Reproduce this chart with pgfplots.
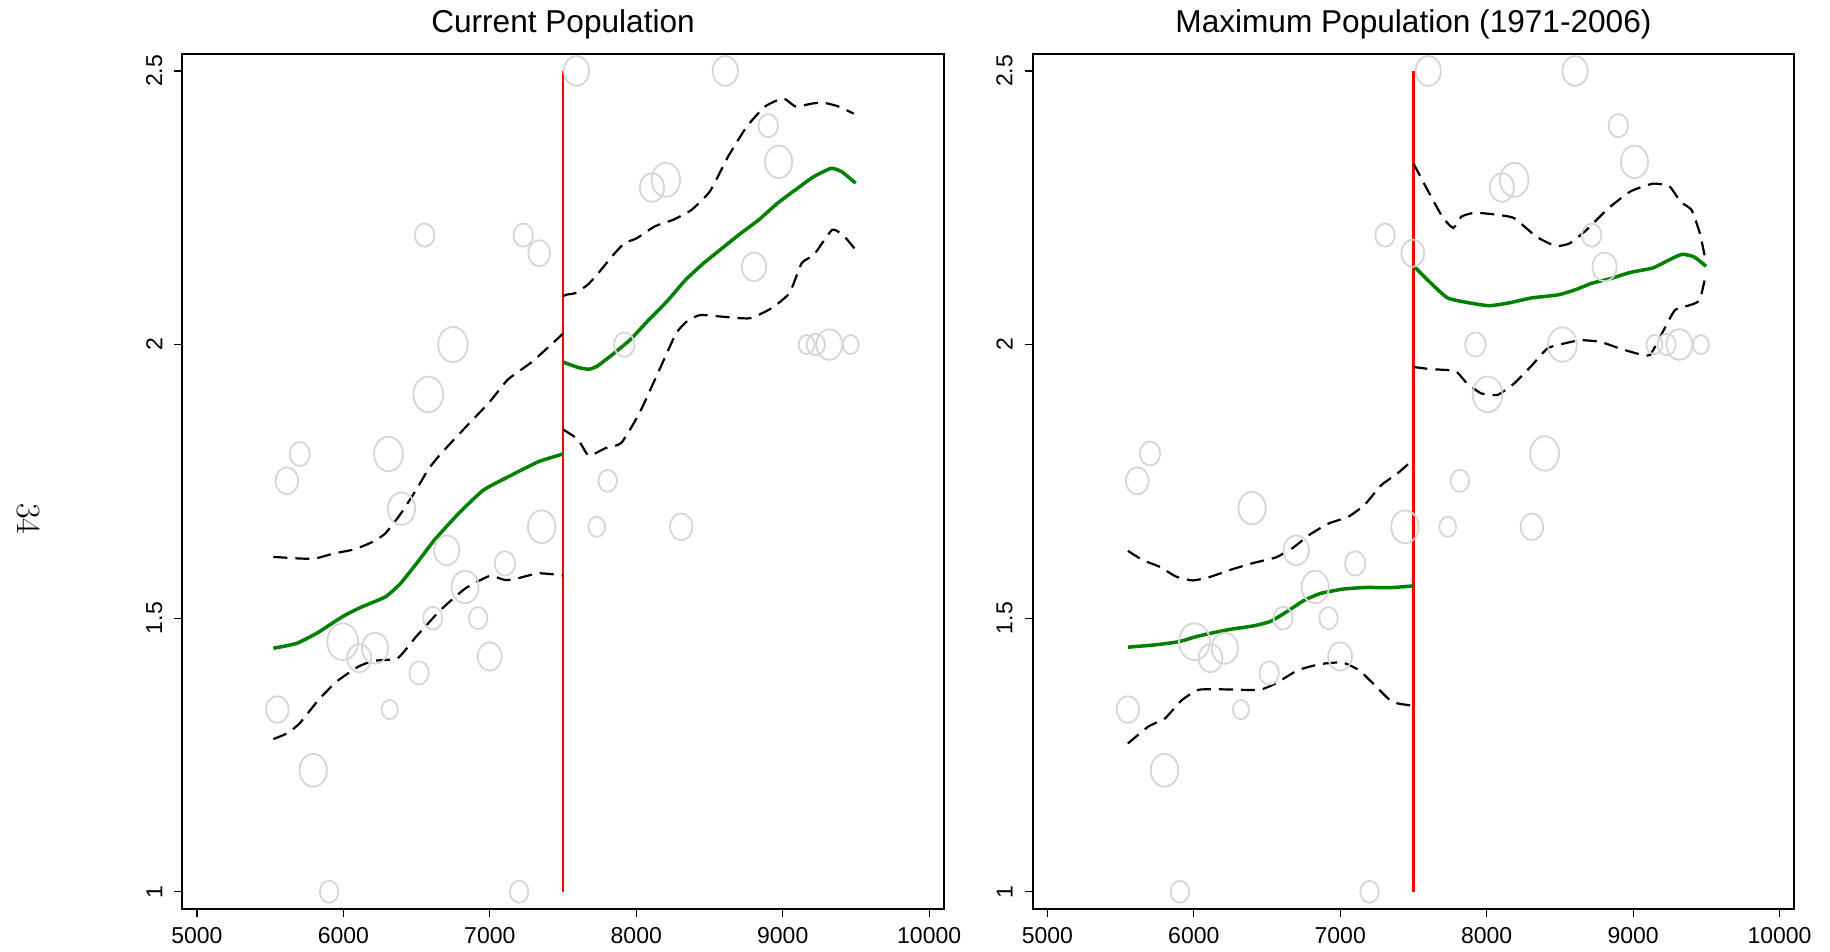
\documentclass[border=0pt]{standalone}
\usepackage{fontspec}
\usepackage{pgfplots}
\usepackage{pgfplotstable}
\pgfplotsset{compat=1.18}
\newfontfamily\axfont{Liberation Sans}
\definecolor{circ}{RGB}{214,214,214}
\definecolor{fitgreen}{RGB}{0,128,0}

% scatter points: x, y, marker radius (pt)
\pgfplotstableread{
x y r
7592 2.5 7.5
8608 2.5 7.5
8901 2.4 5.8
8972 2.334 8.1
8107 2.287 7.2
8202 2.301 8.5
6555 2.2 5.8
7228 2.2 5.8
7337 2.167 6.5
8804 2.142 7.2
6748 2.0 8.8
7918 2.0 6.1
9163 2.0 4.75
9226 2.0 5.4
9318 2.0 7.7
9464 2.0 4.75
6580 1.909 8.9
5702 1.80 6.0
6308 1.80 8.6
5614 1.751 6.75
7805 1.751 5.5
6397 1.70 8.1
7354 1.667 8.2
7730 1.667 5.0
8307 1.667 6.7
6706 1.624 7.5
7103 1.60 6.1
6831 1.557 8.1
6610 1.50 5.7
6920 1.50 5.5
5995 1.457 9.2
6216 1.445 7.8
6108 1.427 7.1
6999 1.43 7.1
6517 1.40 5.8
5549 1.333 6.7
6316 1.333 4.8
5794 1.222 8.2
5903 1.0 5.5
7200 1.0 5.5
}\circA

\pgfplotstableread{
x y r
7601 2.5 7.5
8604 2.5 7.5
8899 2.4 5.8
9009 2.334 8.1
8104 2.287 7.2
8188 2.301 8.5
7306 2.2 5.8
8717 2.2 5.8
7495 2.167 6.8
8805 2.142 7.2
7923 2.0 6.1
8517 2.0 8.6
9145 2.0 4.75
9229 2.0 5.4
9316 2.0 7.7
9463 2.0 4.75
8006 1.909 8.9
8396 1.801 8.6
5701 1.801 6.0
5614 1.751 6.75
7817 1.751 5.5
6398 1.701 8.1
7442 1.667 8.2
7734 1.667 5.0
8309 1.667 6.7
6700 1.624 7.5
7102 1.60 6.1
6829 1.557 8.1
6610 1.5 5.7
6920 1.5 5.5
6004 1.457 9.2
6212 1.445 7.8
6114 1.427 7.1
6999 1.43 7.1
6515 1.40 5.8
5550 1.333 6.7
6322 1.333 4.8
5800 1.222 8.2
5905 1.0 5.5
7200 1.0 5.5
}\circB

\pgfplotsset{
  panel/.style={
    scale only axis, width=380.75pt, height=427.65pt,
    xmin=4900, xmax=10100, ymin=0.968, ymax=2.531,
    xtick={5000,6000,7000,8000,9000,10000}, ytick={1,1.5,2,2.5},
    scaled x ticks=false,
    /pgf/number format/1000 sep={},
    /pgf/number format/assume math mode=true,
    tick label style={font=\axfont\fontsize{11.5}{13}\selectfont},
    xtick pos=left, ytick pos=left,
    tick align=outside, major tick length=4pt,
    every tick/.style={black, line width=0.6pt},
    axis line style={line width=0.9pt},
    xticklabel style={anchor=north, inner sep=0pt, yshift=-4.7pt},
    yticklabel style={xshift=-5.8pt, rotate=90, anchor=south, inner sep=0pt},
    title style={font=\axfont\fontsize{15.8}{18}\selectfont, at={(0.5,1)}, anchor=base, yshift=4.65pt},
  },
  circles/.style={scatter, only marks, mark=o, scatter src=explicit,
    scatter/use mapped color={draw=circ, fill=none},
    mark options={xscale=0.84, line width=0.9pt},
    visualization depends on={\thisrow{r}\as\rr},
    scatter/@pre marker code/.append style={/tikz/mark size=\rr pt}},
  fit/.style={fitgreen, line width=1.75pt, no marks, smooth, tension=0.3},
  ci/.style={black, line width=1.1pt, no marks, smooth, tension=0.3, dash pattern=on 7pt off 4pt},
  cut/.style={red, line width=0.8pt, no marks},
}

\begin{document}
\begin{tikzpicture}
\useasboundingbox (0,0) rectangle (915pt,476pt);
\node[rotate=-90, font=\fontsize{17}{20}\selectfont] at (14.5pt,216.5pt) {34};

\begin{axis}[panel, at={(91.15pt,21.35pt)}, anchor=south west, title={Current Population}]
\addplot[circles] table[x=x, y=y, meta=r] {\circA};
\addplot[cut] coordinates {(7500,1) (7500,2.5)};
\addplot[ci] table {
x y
5522 1.612
5702 1.609
5807 1.609
5932 1.618
6078 1.626
6204 1.640
6287 1.655
6392 1.691
6496 1.734
6580 1.772
6664 1.800
6831 1.848
6998 1.895
7123 1.936
7291 1.969
7500 2.020
};
\addplot[ci] table {
x y
5522 1.279
5619 1.290
5702 1.308
5828 1.350
5953 1.384
6099 1.411
6204 1.422
6371 1.427
6496 1.466
6664 1.515
6831 1.554
6998 1.577
7100 1.570
7165 1.571
7332 1.582
7500 1.578
};
\addplot[fit] table {
x y
5522 1.445
5681 1.454
5828 1.474
5995 1.503
6120 1.520
6287 1.539
6392 1.564
6517 1.606
6622 1.643
6789 1.692
6956 1.734
7123 1.758
7332 1.786
7500 1.800
};
\addplot[ci] table {
x y
7500 2.088
7520 2.091
7583 2.094
7667 2.109
7730 2.127
7834 2.161
7918 2.185
8001 2.194
8127 2.216
8252 2.228
8377 2.246
8503 2.280
8628 2.344
8754 2.398
8879 2.435
9004 2.450
9088 2.435
9213 2.441
9297 2.441
9381 2.435
9485 2.422
};
\addplot[ci] table {
x y
7500 1.845
7604 1.826
7675 1.797
7792 1.811
7897 1.820
8022 1.875
8168 1.960
8273 2.021
8357 2.045
8440 2.054
8586 2.051
8774 2.048
8921 2.066
9046 2.094
9130 2.149
9213 2.164
9339 2.210
9422 2.197
9498 2.173
};
\addplot[fit] table {
x y
7500 1.968
7604 1.958
7675 1.955
7730 1.960
7834 1.981
7959 2.009
8085 2.045
8210 2.079
8336 2.118
8461 2.149
8586 2.176
8712 2.203
8837 2.228
8963 2.258
9088 2.283
9213 2.307
9331 2.322
9402 2.316
9498 2.295
};
\end{axis}

\begin{axis}[panel, at={(516.35pt,21.35pt)}, anchor=south west, title={Maximum Population (1971-2006)}]
\addplot[circles] table[x=x, y=y, meta=r] {\circB};
\addplot[cut, line width=1.1pt] coordinates {(7500,1) (7500,2.5)};
\addplot[ci] table {
x y
5550 1.623
5652 1.606
5766 1.594
5879 1.576
5993 1.569
6106 1.575
6258 1.589
6409 1.601
6560 1.611
6674 1.628
6788 1.652
6920 1.673
7053 1.685
7166 1.707
7280 1.743
7393 1.765
7500 1.790
};
\addplot[ci] table {
x y
5550 1.271
5690 1.302
5804 1.317
5917 1.350
6031 1.369
6182 1.370
6447 1.369
6560 1.381
6712 1.405
6863 1.416
7015 1.419
7128 1.405
7223 1.381
7355 1.347
7500 1.340
};
\addplot[fit] table {
x y
5550 1.447
5728 1.451
5898 1.457
6012 1.466
6125 1.473
6258 1.480
6409 1.486
6523 1.494
6636 1.512
6750 1.532
6863 1.545
7015 1.553
7166 1.556
7355 1.556
7500 1.559
};
\addplot[ci] table {
x y
7500 2.331
7583 2.289
7696 2.234
7772 2.213
7828 2.234
7923 2.241
8075 2.237
8188 2.231
8340 2.197
8472 2.180
8567 2.185
8680 2.209
8831 2.249
8983 2.280
9135 2.294
9248 2.289
9324 2.261
9399 2.246
9456 2.203
9498 2.150
};
\addplot[ci] table {
x y
7500 1.959
7620 1.955
7696 1.954
7791 1.951
7866 1.929
7961 1.911
8075 1.908
8188 1.929
8302 1.960
8415 1.993
8529 2.002
8642 2.008
8775 2.005
8907 1.993
9021 1.984
9115 1.981
9210 2.027
9286 2.063
9399 2.073
9456 2.082
9498 2.130
};
\addplot[fit] table {
x y
7500 2.144
7620 2.112
7734 2.085
7885 2.076
8018 2.071
8150 2.076
8302 2.085
8491 2.091
8604 2.100
8718 2.112
8851 2.121
8983 2.132
9135 2.140
9248 2.155
9335 2.165
9418 2.160
9498 2.143
};
\end{axis}
\end{tikzpicture}
\end{document}
